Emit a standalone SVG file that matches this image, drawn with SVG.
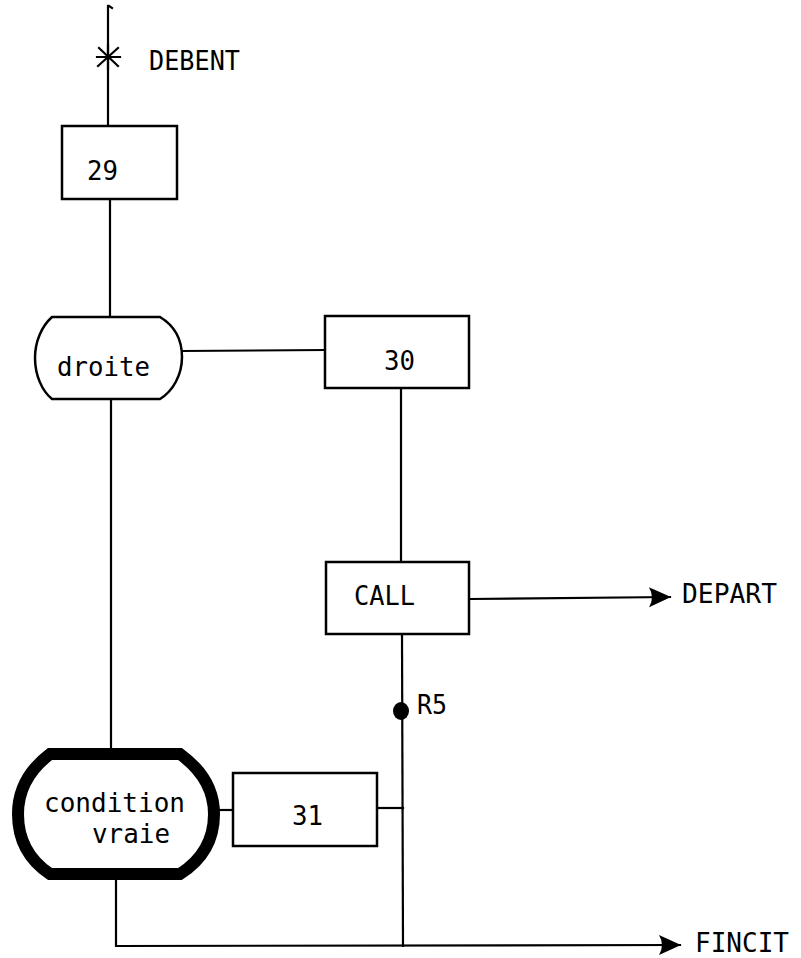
<svg xmlns="http://www.w3.org/2000/svg" width="801" height="958" viewBox="0 0 801 958">
<style>
.ln{fill:none;stroke:#000;stroke-width:2.2;stroke-linecap:square}
.bx{fill:#fff;stroke:#000;stroke-width:2.5}
.t{font-family:"DejaVu Sans Mono","Liberation Mono",monospace;font-size:27px;fill:#000}
</style>
<defs>
<marker id="ah" viewBox="0 0 24 22" refX="22" refY="11" markerWidth="24" markerHeight="22" markerUnits="userSpaceOnUse" orient="auto">
<path d="M1,1 Q7,11 1,21 L23,11 Z" fill="#000"/>
</marker>
</defs>
<rect width="801" height="958" fill="#fff"/>
<g id="connectors">
<path class="ln" d="M108,6 L108,125"/>
<path class="ln" d="M109,6 L112,8"/>
<path class="ln" d="M110,199 L110,317"/>
<path class="ln" d="M111,399 L111,748"/>
<path class="ln" d="M182,351 L325,350"/>
<path class="ln" d="M401,388 L401,562"/>
<path class="ln" d="M470,599 L670,597" marker-end="url(#ah)"/>
<path class="ln" d="M402,635 L403,946"/>
<path class="ln" d="M220,810 L233,810"/>
<path class="ln" d="M377,808 L403,808"/>
<path class="ln" d="M116,880 L116,946 L680,945" marker-end="url(#ah)"/>
<ellipse cx="401" cy="711" rx="8" ry="9" fill="#000"/>
</g>
<g id="debent">
<path class="ln" d="M97,57 L120,57 M108,45 L108,69 M99,48 L118,66 M118,48 L98,66" stroke-width="3"/>
<text class="t" x="149" y="70" textLength="91" lengthAdjust="spacingAndGlyphs">DEBENT</text>
</g>
<g id="n29">
<rect class="bx" x="62" y="126" width="115" height="73"/>
<text class="t" x="87" y="180" textLength="31" lengthAdjust="spacingAndGlyphs">29</text>
</g>
<g id="droite">
<path class="bx" d="M52,317 L160,317 C175,326 182,340 182,357 C182,375 173,391 160,399 L52,399 C42,391 35,375 35,358 C35,341 42,326 52,317 Z"/>
<text class="t" x="57" y="376" textLength="93" lengthAdjust="spacingAndGlyphs">droite</text>
</g>
<g id="n30">
<rect class="bx" x="325" y="316" width="144" height="72"/>
<text class="t" x="384" y="370" textLength="31" lengthAdjust="spacingAndGlyphs">30</text>
</g>
<g id="call">
<rect class="bx" x="326" y="562" width="143" height="72"/>
<text class="t" x="354" y="605" textLength="61" lengthAdjust="spacingAndGlyphs">CALL</text>
</g>
<g id="depart">
<text class="t" x="682" y="603" textLength="95" lengthAdjust="spacingAndGlyphs">DEPART</text>
</g>
<g id="r5">
<text class="t" x="417" y="714" textLength="30" lengthAdjust="spacingAndGlyphs">R5</text>
</g>
<g id="condition">
<path d="M50,754 L180,754 C202,770 214,790 214,814 C214,840 202,860 180,874 L50,874 C29,860 18,840 18,814 C18,790 29,770 50,754 Z" fill="#fff" stroke="#000" stroke-width="12"/>
<text class="t" x="44" y="812" textLength="141" lengthAdjust="spacingAndGlyphs">condition</text>
<text class="t" x="92" y="843" textLength="78" lengthAdjust="spacingAndGlyphs">vraie</text>
</g>
<g id="n31">
<rect class="bx" x="233" y="773" width="144" height="73"/>
<text class="t" x="292" y="825" textLength="31" lengthAdjust="spacingAndGlyphs">31</text>
</g>
<g id="fincit">
<text class="t" x="695" y="952" textLength="94" lengthAdjust="spacingAndGlyphs">FINCIT</text>
</g>
</svg>
